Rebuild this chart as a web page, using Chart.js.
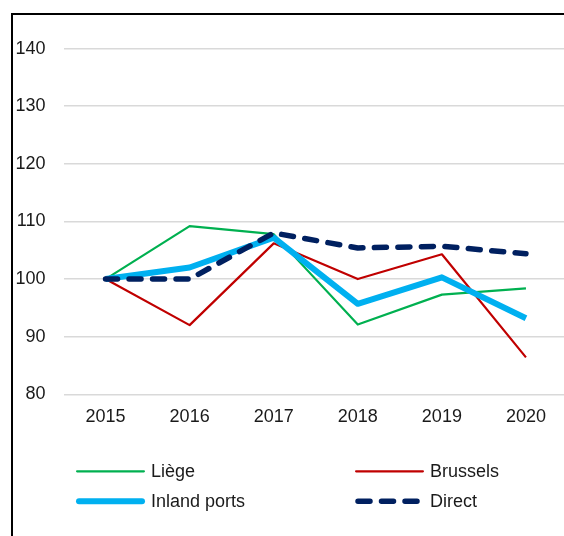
<!DOCTYPE html>
<html>
<head>
<meta charset="utf-8">
<script src="https://cdn.jsdelivr.net/npm/chart.js@4/dist/chart.umd.min.js"></script>
<style>
  body { margin: 0; background: #fff; }
  #wrap { position: absolute; left: 0; top: 0; width: 564px; height: 536px; overflow: hidden; }
  #frame { position: absolute; left: 11px; top: 13px; width: 700px; height: 700px;
           border-left: 2px solid #000; border-top: 2px solid #000; }
  #chart { position: absolute; left: 0; top: 0; }
</style>
</head>
<body>
<div id="wrap">
  <div id="frame"></div>
  <canvas id="chart" width="574" height="536"></canvas>
</div>
<script>
// values (index, 2015 = 100)
const years = ["2015", "2016", "2017", "2018", "2019", "2020"];
const liege = [100, 109.2, 107.8, 92.1, 97.3, 98.4];
const brussels = [100, 92.0, 106.2, 100.0, 104.3, 86.4];
const inlandPorts = [100, 102.0, 107.2, 95.7, 100.3, 93.2];
const direct = [100, 100, 108.0, 105.4, 105.7, 104.4];
const yTicks = [80, 90, 100, 110, 120, 130, 140];

const font = "'Liberation Sans', Arial, sans-serif";

// legend laid out in two columns under the plot, like the original
const legendGrid = {
    id: "legendGrid",
    afterDraw(chart){
        const ctx = chart.ctx;
        const area = chart.chartArea;
        const cols = [area.left + 12.5, area.left + 291.5];
        const rows = [area.bottom + 77, area.bottom + 107];
        // order in the box: Liège, Brussels / Inland ports, Direct
        const slots = [[0,0],[1,0],[0,1],[1,1]];
        chart.data.datasets.forEach((ds, i) => {
            const x = cols[slots[i][0]];
            const y = rows[slots[i][1]];
            ctx.save();
            ctx.strokeStyle = ds.borderColor;
            ctx.lineWidth = ds.borderWidth;
            ctx.lineCap = ds.borderDash ? "round" : "round";
            ctx.setLineDash(ds.borderDash || []);
            ctx.beginPath();
            if(ds.borderDash){
                ctx.moveTo(x + 3, y);
                ctx.lineTo(x + 69, y);
            } else {
                ctx.moveTo(x + ds.borderWidth / 2, y);
                ctx.lineTo(x + 69 - ds.borderWidth / 2, y);
            }
            ctx.stroke();
            ctx.restore();
            ctx.save();
            ctx.fillStyle = "#1a1a1a";
            ctx.font = "18px " + font;
            ctx.textBaseline = "middle";
            ctx.textAlign = "left";
            ctx.fillText(ds.label, x + 75, y + 1);
            ctx.restore();
        });
    }
};

window.onload = function(){
    const ctx = document.getElementById("chart").getContext("2d");
    new Chart(ctx, {
        type: "line",
        data: {
            labels: years,
            datasets: [
                { label: "Liège", data: liege, borderColor: "#00B050", borderWidth: 2.2, order: 3 },
                { label: "Brussels", data: brussels, borderColor: "#C00000", borderWidth: 2.2, order: 2 },
                { label: "Inland ports", data: inlandPorts, borderColor: "#00B0F0", borderWidth: 6, order: 1 },
                { label: "Direct", data: direct, borderColor: "#002060", borderWidth: 5.5,
                  borderDash: [12, 11.5], borderCapStyle: "round", order: 0 }
            ].map(ds => Object.assign({ pointRadius: 0, tension: 0, fill: false, borderJoinStyle: "round" }, ds))
        },
        options: {
            responsive: false,
            animation: false,
            devicePixelRatio: 1,
            layout: { padding: { top: 48.6, right: 6, bottom: 101.7, left: 0 } },
            plugins: { legend: { display: false }, tooltip: { enabled: false } },
            scales: {
                x: {
                    offset: true,
                    grid: { display: false, drawTicks: false },
                    border: { display: false },
                    ticks: { color: "#1a1a1a", font: { family: font, size: 18 }, padding: 12, maxRotation: 0 },
                    afterFit: s => { s.height = 40; }
                },
                y: {
                    min: yTicks[0],
                    max: yTicks[yTicks.length - 1],
                    afterBuildTicks: s => { s.ticks = yTicks.map(v => ({ value: v })); },
                    grid: { color: "#d9d9d9", lineWidth: 1.5, drawTicks: false },
                    border: { display: false },
                    ticks: { color: "#1a1a1a", font: { family: font, size: 18 }, padding: 18 },
                    afterFit: s => { s.width = 63.5; }
                }
            }
        },
        plugins: [legendGrid]
    });
}
</script>
</body>
</html>
